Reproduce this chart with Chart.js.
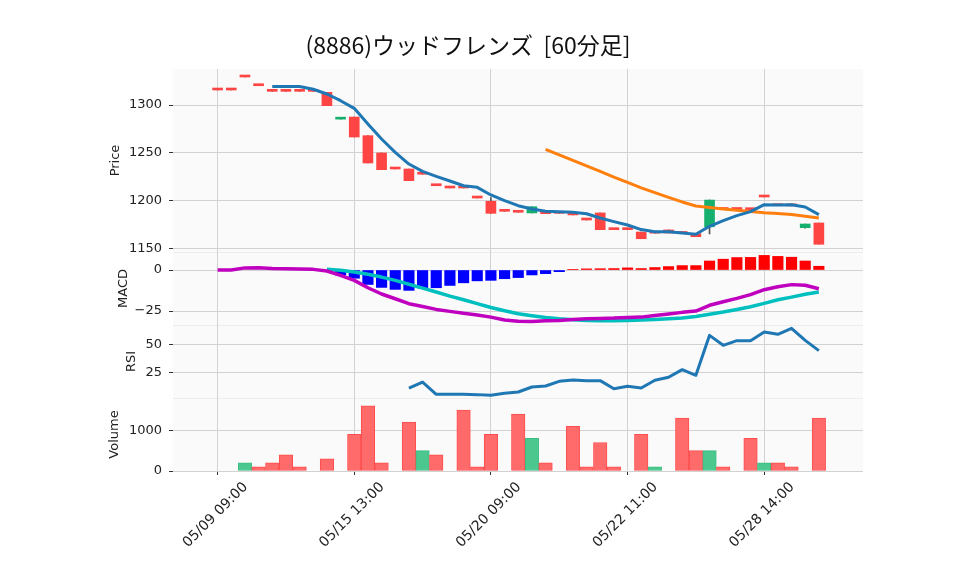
<!DOCTYPE html>
<html>
<head>
<meta charset="utf-8">
<script src="https://cdn.jsdelivr.net/npm/chart.js@4.4.1/dist/chart.umd.min.js"></script>
<style>
  html, body { margin: 0; padding: 0; background: #fff; }
  #wrap { width: 958px; height: 575px; }
</style>
</head>
<body>
<div id="wrap"><canvas id="chart" width="958" height="575"></canvas></div>
<script>
// data, one entry per 60 minute bar
const title = '(8886)ウッドフレンズ  [60分足]';
const tickIndex = [0, 10, 20, 30, 40];
const tickLabels = ['05/09 09:00', '05/15 13:00', '05/20 09:00', '05/22 11:00', '05/28 14:00'];
const priceTicks = [1150, 1200, 1250, 1300];
const macdTicks = [-25, 0];
const rsiTicks = [25, 50];
const volTicks = [0, 1000];

const opens = [1315.7, 1315.7, 1329.3, 1320.2, 1314.3, 1314.3, 1314.3, 1314.3, 1313.3, 1285.2,
  1287.4, 1267.9, 1249.8, 1233.0, 1233.0, 1227.5, 1216.5, 1213.1, 1213.1, 1202.6,
  1199.2, 1188.7, 1187.7, 1187.0, 1187.8, 1186.6, 1184.9, 1179.6, 1187.0, 1169.5,
  1169.5, 1167.0, 1166.6, 1169.2, 1165.5, 1165.3, 1172.5, 1190.6, 1190.6, 1190.4,
  1203.7, 1194.6, 1194.4, 1171.6, 1176.5];
const closes = [1315.7, 1315.7, 1329.3, 1320.2, 1314.3, 1314.3, 1314.3, 1314.3, 1299.3, 1286.2,
  1266.5, 1239.3, 1232.3, 1233.0, 1220.8, 1227.5, 1215.5, 1213.1, 1213.1, 1202.6,
  1186.6, 1188.7, 1187.7, 1193.5, 1186.2, 1186.6, 1184.9, 1179.6, 1169.5, 1169.5,
  1169.5, 1160.0, 1165.8, 1166.0, 1165.5, 1162.1, 1200.5, 1190.6, 1190.6, 1190.4,
  1203.7, 1194.6, 1194.4, 1175.4, 1154.2];
const highs = [1315.7, 1315.7, 1329.3, 1320.2, 1314.3, 1314.3, 1314.3, 1314.3, 1313.3, 1286.2,
  1287.4, 1267.9, 1249.8, 1233.0, 1233.0, 1227.5, 1216.5, 1213.1, 1213.1, 1202.6,
  1203.0, 1188.7, 1187.7, 1193.5, 1187.8, 1186.6, 1184.9, 1179.6, 1187.0, 1169.5,
  1169.5, 1167.0, 1166.6, 1169.2, 1165.5, 1165.3, 1200.5, 1190.6, 1190.6, 1190.4,
  1203.7, 1194.6, 1194.4, 1175.4, 1176.5];
const lows = [1315.7, 1315.7, 1329.3, 1320.2, 1314.3, 1314.3, 1314.3, 1314.3, 1299.3, 1285.2,
  1266.5, 1239.3, 1232.3, 1233.0, 1220.8, 1227.5, 1215.5, 1213.1, 1213.1, 1202.6,
  1186.6, 1188.7, 1187.7, 1187.0, 1186.2, 1186.6, 1184.9, 1179.6, 1169.5, 1169.5,
  1169.5, 1160.0, 1165.8, 1166.0, 1165.5, 1162.1, 1165.0, 1190.6, 1190.6, 1190.4,
  1203.7, 1194.6, 1194.4, 1171.0, 1154.2];
const volumes = [0, 0, 200, 100, 200, 400, 100, 0, 300, 0,
  900, 1600, 200, 0, 1200, 500, 400, 0, 1500, 100,
  900, 0, 1400, 800, 200, 0, 1100, 100, 700, 100,
  0, 900, 100, 0, 1300, 500, 500, 100, 0, 800,
  200, 200, 100, 0, 1300];
const sma5 = [null, null, null, null, 1319.5, 1319.5, 1319.3, 1316.5, 1311.5, 1304.5,
  1296.5, 1280.1, 1264.4, 1250.4, 1238.2, 1230.5, 1225.3, 1220.4, 1215.5, 1213.8,
  1205.8, 1199.8, 1194.6, 1191.1, 1188.7, 1188.3, 1187.6, 1186.2, 1181.7, 1177.9,
  1174.4, 1169.6, 1167.4, 1167.4, 1166.0, 1164.6, 1173.0, 1178.9, 1184.2, 1188.4,
  1195.7, 1195.3, 1195.5, 1193.2, 1185.2];
const sma25 = [null, null, null, null, null, null, null, null, null, null,
  null, null, null, null, null, null, null, null, null, null,
  null, null, null, null, 1253.6, 1247.8, 1242.0, 1236.2, 1230.4, 1224.6,
  1218.9, 1213.3, 1208.3, 1203.3, 1198.5, 1194.2, 1192.8, 1191.2, 1189.8, 1188.5,
  1187.2, 1186.3, 1185.4, 1183.6, 1181.6];
const macd = [0, 0, 1.3, 1.4, 1.0, 0.8, 0.6, 0.4, -0.6, -3.3,
  -6.3, -10.8, -14.6, -17.5, -20.5, -22.2, -24.0, -25.2, -26.4, -27.4,
  -28.7, -30.5, -31.2, -31.3, -30.9, -30.7, -30.1, -29.7, -29.5, -29.3,
  -28.9, -28.7, -27.7, -26.8, -25.8, -25.0, -21.5, -19.3, -17.3, -15.0,
  -12.0, -10.2, -8.9, -9.3, -11.4];
const signal = [null, null, null, null, null, null, null, null, 0.4, -0.2,
  -1.2, -2.6, -4.3, -6.3, -8.7, -11.0, -13.4, -15.9, -18.1, -20.5,
  -22.8, -24.8, -26.6, -27.8, -28.9, -29.7, -30.3, -30.7, -30.9, -30.9,
  -30.7, -30.5, -30.1, -29.7, -29.3, -28.3, -27.0, -25.6, -24.0, -22.4,
  -20.3, -18.1, -16.5, -14.8, -13.4];
const hist = [null, null, null, null, null, null, null, null, -1.0, -3.1,
  -5.0, -8.8, -10.6, -11.8, -12.4, -10.9, -10.8, -9.4, -7.8, -6.6,
  -6.3, -5.3, -4.6, -3.0, -2.2, -1.0, 0.2, 0.7, 0.8, 0.9,
  1.3, 0.9, 1.5, 2.1, 2.7, 2.7, 5.5, 6.6, 7.6, 7.7,
  8.9, 8.3, 7.8, 5.5, 2.3];
const rsi = [null, null, null, null, null, null, null, null, null, null,
  null, null, null, null, 11.5, 16.8, 6.0, 6.0, 6.0, 5.7,
  5.1, 6.9, 8.0, 12.4, 13.3, 17.4, 18.6, 18.0, 18.0, 10.9,
  13.0, 11.5, 18.3, 21.0, 27.7, 22.7, 57.9, 49.1, 53.2, 53.2,
  60.8, 58.8, 64.1, 53.5, 44.4];

const UP = '#16b06e';
const DOWN = '#ff4444';
const GRID = '#d2d2d2';
const TEXT = '#222';
const font = { family: 'DejaVu Sans', size: 13 };

const pts = (arr) => arr.map((v, i) => ({ x: i, y: v }));
const candleColors = opens.map((o, i) => (closes[i] > o ? UP : DOWN));
const volColors = closes.map((c, i) => (i > 0 && c > closes[i - 1] ? '#4cc88f' : '#ff6b6b'));
const volBorders = closes.map((c, i) => (i > 0 && c > closes[i - 1] ? '#3dbd84' : '#ff4d4d'));

const panelBg = {
  id: 'panelBg',
  beforeDraw(chart) {
    const { ctx, chartArea: a } = chart;
    ctx.save();
    ctx.fillStyle = '#fafafa';
    ctx.fillRect(a.left, a.top, a.width, a.height);
    ctx.strokeStyle = '#ededed';
    ctx.lineWidth = 1;
    for (const id of ['yMacd', 'yRsi', 'yVol']) {
      const y = Math.round(chart.scales[id].top) + 0.5;
      ctx.beginPath();
      ctx.moveTo(a.left, y);
      ctx.lineTo(a.right, y);
      ctx.stroke();
    }
    ctx.fillStyle = '#111';
    ctx.font = '23px "Noto Sans CJK JP", "DejaVu Sans"';
    ctx.textAlign = 'center';
    ctx.textBaseline = 'middle';
    ctx.fillText(title, 468, 45);
    ctx.restore();
  }
};

const yAxis = function (min, max, ticks, weight, stackWeight, text, titlePad, fmt) {
  return {
    type: 'linear',
    position: 'left',
    stack: 'panels',
    stackWeight: stackWeight,
    weight: weight,
    min: min,
    max: max,
    border: { display: false },
    grid: { color: GRID, tickLength: 4, tickColor: '#333' },
    afterBuildTicks: function (s) { s.ticks = ticks.map(v => ({ value: v })); },
    ticks: { padding: 7, color: TEXT, font: font, callback: fmt },
    title: { display: true, text: text, color: TEXT, font: font, padding: { top: titlePad, bottom: 0 } },
    afterFit: function (s) { s.width = 173; }
  };
};

const config = {
  data: {
    datasets: [
      {
        type: 'line', label: 'SMA5', yAxisID: 'yPrice', data: pts(sma5),
        borderColor: '#1f77b4', borderWidth: 3, pointRadius: 0, order: 1, borderJoinStyle: 'round'
      },
      {
        type: 'line', label: 'SMA25', yAxisID: 'yPrice', data: pts(sma25),
        borderColor: '#ff7f0e', borderWidth: 3, pointRadius: 0, order: 1, borderJoinStyle: 'round'
      },
      {
        type: 'bar', label: 'body', yAxisID: 'yPrice',
        data: opens.map((o, i) => ({ x: i, y: [o, closes[i]] })),
        backgroundColor: candleColors, borderWidth: 0, barThickness: 10, minBarLength: 2,
        grouped: false, order: 4
      },
      {
        type: 'bar', label: 'wick', yAxisID: 'yPrice',
        data: lows.map((l, i) => ({ x: i, y: [l, highs[i]] })),
        backgroundColor: '#555', borderWidth: 0, barThickness: 1, grouped: false, order: 5
      },
      {
        type: 'line', label: 'MACD', yAxisID: 'yMacd', data: pts(macd),
        borderColor: '#bf00bf', borderWidth: 3.5, pointRadius: 0, order: 1, borderJoinStyle: 'round'
      },
      {
        type: 'line', label: 'Signal', yAxisID: 'yMacd', data: pts(signal),
        borderColor: '#00bfbf', borderWidth: 3.5, pointRadius: 0, order: 1, borderJoinStyle: 'round'
      },
      {
        type: 'bar', label: 'Hist', yAxisID: 'yMacd', data: pts(hist),
        backgroundColor: hist.map(v => (v !== null && v >= 0 ? '#ff0000' : '#0000ff')),
        borderWidth: 0, barThickness: 10.5, grouped: false, order: 3
      },
      {
        type: 'line', label: 'RSI', yAxisID: 'yRsi', data: pts(rsi),
        borderColor: '#1f77b4', borderWidth: 3, pointRadius: 0, order: 1, borderJoinStyle: 'round'
      },
      {
        type: 'bar', label: 'Volume', yAxisID: 'yVol', data: pts(volumes),
        backgroundColor: volColors, borderColor: volBorders, borderWidth: 1, borderSkipped: false,
        barThickness: 13.5, grouped: false, order: 3
      }
    ]
  },
  options: {
    responsive: false,
    animation: false,
    layout: { padding: { top: 69, left: 0, right: 95, bottom: 0 } },
    plugins: { legend: { display: false }, tooltip: { enabled: false } },
    scales: {
      x: {
        type: 'linear',
        position: 'bottom',
        min: -3.264,
        max: 47.23,
        offset: false,
        border: { display: false },
        grid: { color: GRID, tickLength: 4, tickColor: '#333', offset: false },
        afterBuildTicks: function (s) { s.ticks = tickIndex.map(v => ({ value: v })); },
        ticks: {
          autoSkip: false, maxRotation: 45, minRotation: 45, labelOffset: 28, padding: 4,
          color: TEXT, font: { family: 'DejaVu Sans', size: 14 },
          callback: function (v) { return tickLabels[tickIndex.indexOf(v)]; }
        },
        afterFit: function (s) { s.height = 104; }
      },
      yPrice: yAxis(1146.1, 1337.7, priceTicks, 4, 183, 'Price', 108, v => String(v)),
      yMacd: yAxis(-33.5, 10.98, macdTicks, 3, 73, 'MACD', 116, v => (v < 0 ? '\u2212' + Math.abs(v) : String(v))),
      yRsi: yAxis(2.73, 67, rsiTicks, 2, 73, 'RSI', 124, v => String(v)),
      yVol: yAxis(0, 1794, volTicks, 1, 73, 'Volume', 107, v => String(v))
    }
  },
  plugins: [panelBg]
};

const init = function () {
  new Chart(document.getElementById('chart'), config);
};
document.addEventListener('DOMContentLoaded', init);
</script>
</body>
</html>
